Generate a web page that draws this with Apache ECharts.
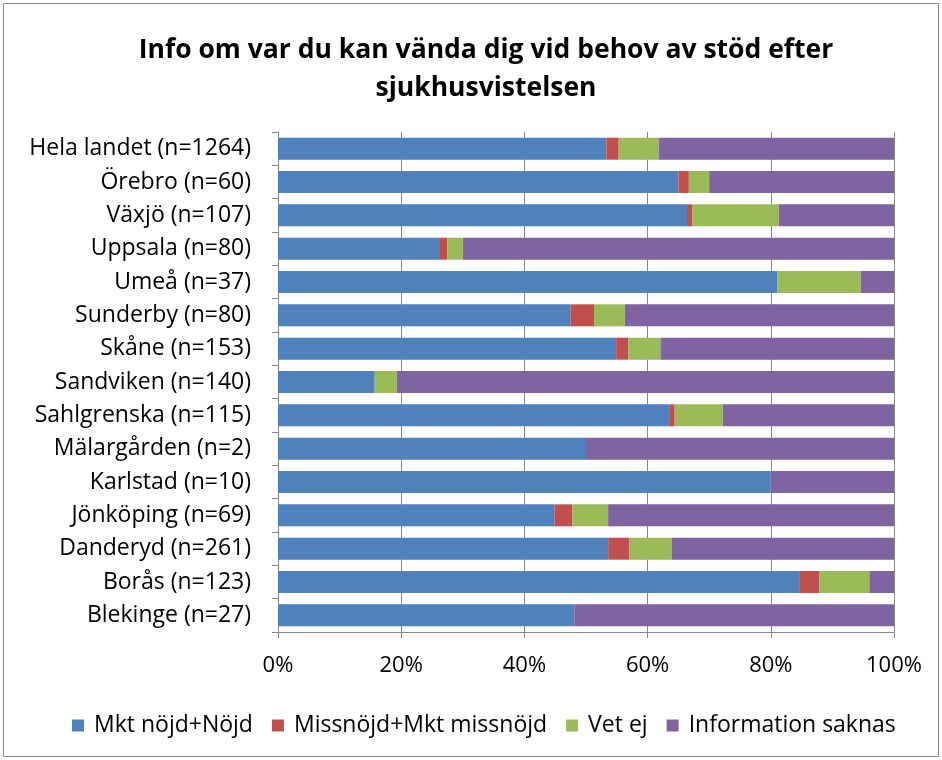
<!DOCTYPE html>
<html>
<head>
<meta charset="utf-8">
<script src="https://cdn.jsdelivr.net/npm/echarts@6/dist/echarts.min.js"></script>
<style>
  html, body { margin: 0; padding: 0; background: #fff; }
  #main { width: 942px; height: 760px; }
</style>
</head>
<body>
<div id="main"></div>
<script>
// kategorier uppifrån och ned
var categories = ['Hela landet (n=1264)', 'Örebro (n=60)', 'Växjö (n=107)', 'Uppsala (n=80)',
  'Umeå (n=37)', 'Sunderby (n=80)', 'Skåne (n=153)', 'Sandviken (n=140)', 'Sahlgrenska (n=115)',
  'Mälargården (n=2)', 'Karlstad (n=10)', 'Jönköping (n=69)', 'Danderyd (n=261)',
  'Borås (n=123)', 'Blekinge (n=27)'];
var seriesNames = ['Mkt nöjd+Nöjd', 'Missnöjd+Mkt missnöjd', 'Vet ej', 'Information saknas'];
var nojd =      [53.3, 65.0, 66.4, 26.3, 81.1, 47.5, 54.9, 15.7, 63.5, 50.0, 80.0, 44.9, 53.6, 84.6, 48.1];
var missnojd =  [2.0,  1.7,  0.9,  1.2,  0,    3.8,  2.0,  0,    0.9,  0,    0,    2.9,  3.4,  3.3,  0];
var vetEj =     [6.5,  3.3,  14.0, 2.5,  13.5, 5.0,  5.2,  3.6,  7.8,  0,    0,    5.8,  6.9,  8.1,  0];
var saknas =    [38.2, 30.0, 18.7, 70.0, 5.4,  43.7, 37.9, 80.7, 27.8, 50.0, 20.0, 46.4, 36.1, 4.0,  51.9];
var colors = ['#4F81BD', '#C0504D', '#9BBB59', '#8064A2'];
var xTicks = [0, 20, 40, 60, 80, 100];

var font = '"Open Sans", Lato, sans-serif';
var chart = echarts.init(document.getElementById('main'), null, { renderer: 'canvas' });

var allData = [nojd, missnojd, vetEj, saknas];
var series = seriesNames.map(function (name, i) {
  return {
    name: name,
    type: 'bar',
    stack: 'total',
    barCategoryGap: '34%',
    itemStyle: { color: colors[i] },
    data: allData[i]
  };
});

var option = {
  animation: false,
  textStyle: { fontFamily: font },
  title: {
    text: 'Info om var du kan vända dig vid behov av stöd efter\nsjukhusvistelsen',
    left: 481,
    textAlign: 'center',
    top: 26,
    textStyle: { fontSize: 26.5, fontWeight: 'bold', color: '#000', lineHeight: 38, fontFamily: font }
  },
  legend: {
    bottom: 18,
    left: 67,
    itemWidth: 12,
    itemHeight: 12,
    itemGap: 19,
    icon: 'rect',
    textStyle: { fontSize: 23, color: '#000', fontFamily: font, padding: [0, 0, 0, 5] },
    data: seriesNames
  },
  grid: { left: 278, right: 48, top: 132, bottom: 128, containLabel: false },
  xAxis: {
    type: 'value',
    min: 0,
    max: 100,
    interval: 20,
    axisLine: { show: true, lineStyle: { color: '#868686' } },
    axisTick: { show: true, length: 6, lineStyle: { color: '#868686' } },
    splitLine: { show: true, lineStyle: { color: '#868686', width: 1 } },
    axisLabel: {
      formatter: function (v) { return xTicks.indexOf(v) >= 0 ? v + '%' : ''; },
      fontSize: 22, color: '#000', margin: 23, fontFamily: font
    }
  },
  yAxis: {
    type: 'category',
    inverse: true,
    data: categories,
    axisLine: { show: true, lineStyle: { color: '#868686' } },
    axisTick: { show: true, length: 6, inside: false, lineStyle: { color: '#868686' } },
    axisLabel: { fontSize: 23, color: '#000', margin: 27, fontFamily: font }
  },
  series: series,
  graphic: [{
    type: 'rect',
    shape: { x: 3.5, y: 3.5, width: 935, height: 753 },
    style: { fill: 'none', stroke: '#868686', lineWidth: 1 },
    silent: true
  }]
};
chart.setOption(option);
</script>
</body>
</html>
